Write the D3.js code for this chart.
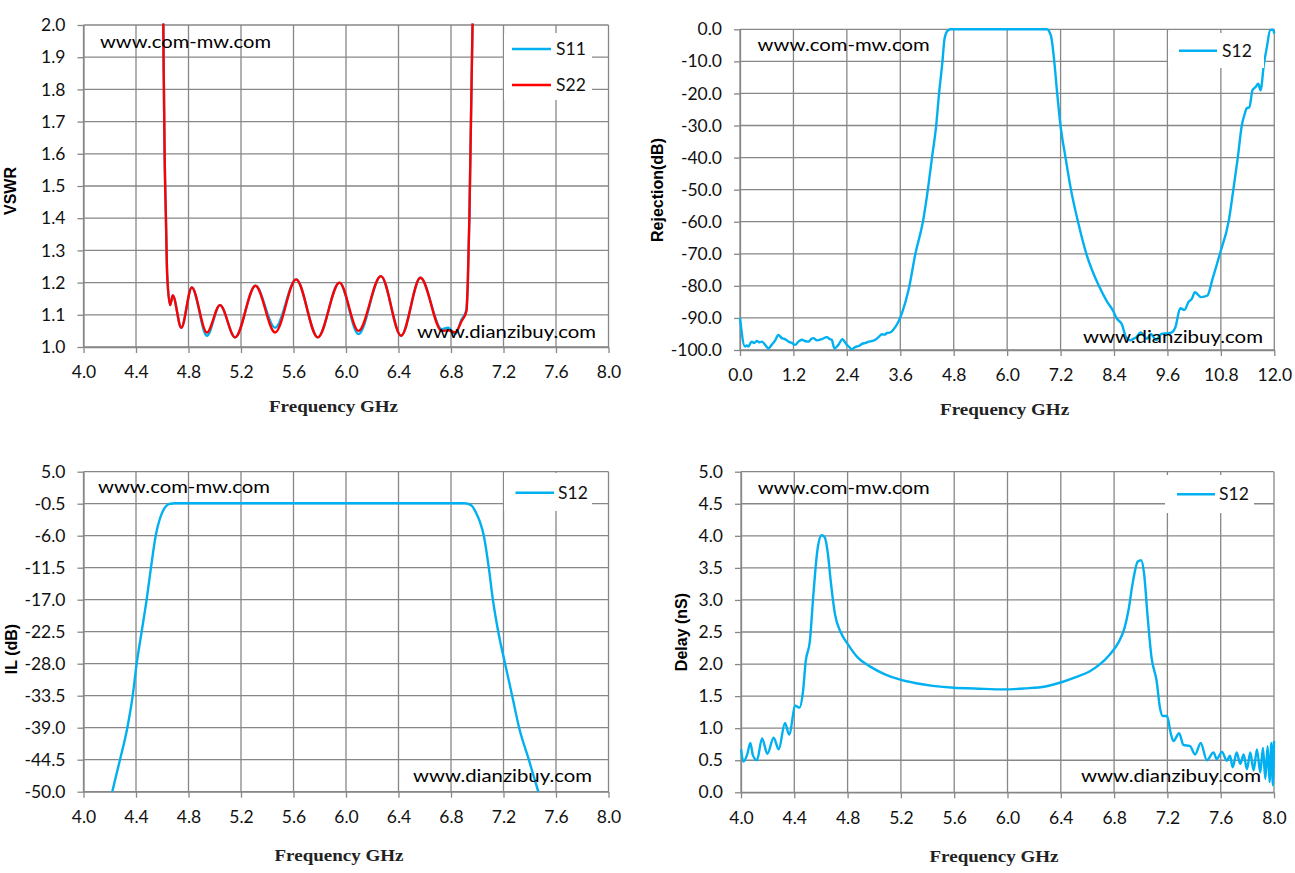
<!DOCTYPE html>
<html>
<head>
<meta charset="utf-8">
<script src="https://cdn.jsdelivr.net/npm/d3@7"></script>
<style>
  body { margin: 0; background: #fff; }
  svg { display: block; }
</style>
</head>
<body>
<div id="chart"></div>
<script>
// ---- VSWR (top left) ----
const vswrFreq = [4.600, 4.605, 4.610, 4.618, 4.628, 4.638, 4.660, 4.680, 4.745, 4.825, 4.940, 5.040, 5.155, 5.310,
                  5.460, 5.620, 5.785, 5.950, 6.095, 6.266, 6.420, 6.567, 6.730, 6.778, 6.833, 6.880, 6.917,
                  6.928, 6.940, 6.952, 6.964, 6.975];
const vswrS11 = [2.6, 2.2, 1.9, 1.6, 1.4, 1.22, 1.13, 1.16, 1.06, 1.185, 1.035, 1.13, 1.03, 1.19,
                 1.06, 1.21, 1.03, 1.20, 1.04, 1.22, 1.035, 1.215, 1.055, 1.06, 1.04, 1.085, 1.115,
                 1.2, 1.4, 1.7, 2.0, 2.3];
const vswrS22 = [2.6, 2.2, 1.9, 1.6, 1.4, 1.22, 1.13, 1.16, 1.06, 1.185, 1.045, 1.13, 1.03, 1.19,
                 1.045, 1.21, 1.03, 1.20, 1.05, 1.22, 1.035, 1.215, 1.05, 1.052, 1.045, 1.08, 1.11,
                 1.2, 1.4, 1.7, 2.0, 2.3];
const vswrXTicks = [4.0, 4.4, 4.8, 5.2, 5.6, 6.0, 6.4, 6.8, 7.2, 7.6, 8.0];
const vswrYTicks = [1.0, 1.1, 1.2, 1.3, 1.4, 1.5, 1.6, 1.7, 1.8, 1.9, 2.0];

// ---- Rejection (top right) ----
const rejFreq = [0.00, 0.11, 0.15, 0.19, 0.26, 0.32, 0.38, 0.44, 0.49, 0.56, 0.64, 0.71, 0.79, 0.86, 0.94,
                 1.01, 1.09, 1.16, 1.24, 1.31, 1.39, 1.46, 1.54, 1.60, 1.65, 1.73, 1.84, 1.95, 2.02, 2.06,
                 2.12, 2.21, 2.30, 2.35, 2.40, 2.45, 2.51, 2.57, 2.63, 2.69, 2.74, 2.82, 2.89, 2.96, 3.04,
                 3.11, 3.19, 3.25, 3.30, 3.36, 3.41, 3.49, 3.56, 3.64, 3.79,
                 3.939, 4.108, 4.219, 4.312, 4.406, 4.471, 4.547, 4.593, 4.66, 4.734, 6.89, 6.983, 7.058, 7.124,
                 7.198, 7.311, 7.433, 7.591, 7.779, 8.06, 8.247, 8.388, 8.453, 8.576, 8.67, 8.764, 8.83, 8.904,
                 8.997, 9.07, 9.138, 9.232, 9.29, 9.345, 9.40, 9.466, 9.58, 9.70, 9.776, 9.888, 9.981, 10.075,
                 10.15, 10.217, 10.357, 10.498, 10.61, 10.778, 10.98, 11.08, 11.18, 11.27, 11.34, 11.38,
                 11.44, 11.51, 11.58, 11.64, 11.69, 11.77, 11.83, 11.91, 11.97, 12.0];
const rejS12 = [-90, -98.9, -98.6, -98.9, -97.4, -97.8, -97.2, -97.6, -97.4, -98.3, -99.5, -98.4, -97, -95.3, -96.3,
                -96.6, -97.4, -97.8, -98.4, -97.4, -96.8, -97.2, -97.4, -96.6, -96.3, -97, -96.6, -96, -96.6, -96.8,
                -99.5, -98.4, -96.6, -97.4, -98.4, -99, -99.8, -99.2, -98.9, -98.6, -98.1, -97.8, -97.4, -97.2, -96.8,
                -96, -95.1, -95.2, -94.7, -94.6, -94.2, -92.8, -91.1, -88.4, -81,
                -70, -60, -50, -40, -30, -20, -10, -3, -0.5, 0, 0, -2, -10, -20,
                -30, -40, -50, -60, -70, -80, -85, -88, -90, -92, -96, -97, -96.5, -96,
                -94.5, -95.5, -96.5, -95, -96, -97, -96, -95, -94.8, -94.5, -93, -87, -87.5, -85,
                -84, -82, -83.5, -83, -78, -70, -59.5, -50, -40, -30, -26.2, -24.6,
                -24.3, -19, -18, -17, -19, -10.5, -5.8, -0.2, -0.1, -1.3];
const rejXTicks = [0.0, 1.2, 2.4, 3.6, 4.8, 6.0, 7.2, 8.4, 9.6, 10.8, 12.0];
const rejYTicks = [0, -10, -20, -30, -40, -50, -60, -70, -80, -90, -100];

// ---- Insertion loss (bottom left) ----
const ilFreq = [4.219, 4.278, 4.334, 4.375, 4.405, 4.443, 4.481, 4.514, 4.55, 4.583, 4.616, 4.64, 4.66, 4.70,
                6.90, 6.926, 6.96, 6.99, 7.02, 7.05, 7.088, 7.119, 7.16, 7.212, 7.266, 7.319, 7.393, 7.465];
const ilS12 = [-50, -44.5, -39, -33.5, -28, -22.5, -17, -11.5, -6, -3, -1.3, -0.7, -0.5, -0.42,
               -0.42, -0.5, -0.9, -2, -3.6, -6, -11.5, -17, -22.5, -28, -33.5, -39, -44.5, -50];
const ilXTicks = [4.0, 4.4, 4.8, 5.2, 5.6, 6.0, 6.4, 6.8, 7.2, 7.6, 8.0];
const ilYTicks = [5.0, -0.5, -6.0, -11.5, -17.0, -22.5, -28.0, -33.5, -39.0, -44.5, -50.0];

// ---- Group delay (bottom right) ----
const delayFreq = [4.001, 4.017, 4.048, 4.07, 4.089, 4.12, 4.158, 4.198, 4.245, 4.283, 4.33, 4.361, 4.408, 4.439,
                   4.464, 4.486, 4.517, 4.542, 4.573, 4.605, 4.627, 4.652, 4.673, 4.705, 4.752, 4.805, 4.877, 4.97,
                   5.08, 5.189, 5.314, 5.439, 5.596, 5.752, 5.971, 6.127, 6.284, 6.41, 6.518, 6.612, 6.69, 6.768,
                   6.831, 6.878, 6.909, 6.94, 6.978, 7.003, 7.025, 7.05, 7.081, 7.119, 7.144, 7.166, 7.197, 7.225,
                   7.245, 7.288, 7.32, 7.37, 7.408, 7.45, 7.496, 7.546, 7.57, 7.61, 7.646, 7.67, 7.69, 7.72,
                   7.747, 7.772, 7.797, 7.822, 7.847, 7.872, 7.897, 7.917, 7.935, 7.952, 7.967, 7.98, 7.992, 8.0];
const delayS12 = [0.67, 0.48, 0.6, 0.77, 0.58, 0.5, 0.84, 0.6, 0.85, 0.67, 1.08, 0.9, 1.35, 1.32,
                  1.55, 2.05, 2.36, 3.05, 3.77, 4.01, 3.98, 3.72, 3.3, 2.78, 2.48, 2.3, 2.1, 1.96,
                  1.84, 1.76, 1.7, 1.66, 1.63, 1.62, 1.605, 1.62, 1.65, 1.72, 1.8, 1.88, 1.99, 2.15,
                  2.33, 2.56, 2.85, 3.27, 3.6, 3.62, 3.41, 2.78, 2.1, 1.74, 1.32, 1.19, 1.19, 0.92,
                  0.8, 0.92, 0.74, 0.72, 0.59, 0.77, 0.5, 0.62, 0.52, 0.63, 0.49, 0.57, 0.39, 0.62,
                  0.44, 0.59, 0.36, 0.62, 0.34, 0.67, 0.31, 0.69, 0.21, 0.72, 0.16, 0.77, 0.11, 0.8];
const delayXTicks = [4.0, 4.4, 4.8, 5.2, 5.6, 6.0, 6.4, 6.8, 7.2, 7.6, 8.0];
const delayYTicks = [0.0, 0.5, 1.0, 1.5, 2.0, 2.5, 3.0, 3.5, 4.0, 4.5, 5.0];

const blue = "#00B0F0";
const red = "#FF0000";
const gridColor = "#878787";
const tickFont = "Lato, 'Open Sans', sans-serif";

const svg = d3.select("#chart").append("svg")
    .attr("width", 1295)
    .attr("height", 873);

const panels = [
  {
    left: 83.5, right: 608.5, top: 25, bottom: 347,
    xDomain: [4, 8], yDomain: [1, 2], xTicks: vswrXTicks, yTicks: vswrYTicks,
    series: [
      { name: "S11", color: blue, freq: vswrFreq, values: vswrS11 },
      { name: "S22", color: red, freq: vswrFreq, values: vswrS22 }
    ],
    legend: { x: 504, y: 33, w: 88, h: 67, rows: [49, 85], lx1: 512, lx2: 551, tx: 556 },
    mark1: [100, 48, 171], mark2: [417, 338, 179],
    yTitle: "VSWR", yTitleAt: [10, 191], xTitleAt: [333.5, 412]
  },
  {
    left: 740, right: 1274.3, top: 29.3, bottom: 350,
    xDomain: [0, 12], yDomain: [-100, 0], xTicks: rejXTicks, yTicks: rejYTicks,
    series: [{ name: "S12", color: blue, freq: rejFreq, values: rejS12 }],
    legend: { x: 1168, y: 33, w: 96, h: 35, rows: [50.7], lx1: 1179, lx2: 1217, tx: 1222 },
    mark1: [757.6, 50.7, 172], mark2: [1083, 343, 180],
    yTitle: "Rejection(dB)", yTitleAt: [657, 190], xTitleAt: [1004.6, 415]
  },
  {
    left: 83.5, right: 608.5, top: 471.7, bottom: 791.7,
    xDomain: [4, 8], yDomain: [-50, 5], xTicks: ilXTicks, yTicks: ilYTicks,
    series: [{ name: "S12", color: blue, freq: ilFreq, values: ilS12 }],
    legend: { x: 504, y: 473, w: 88, h: 38, rows: [492.7], lx1: 515.5, lx2: 554, tx: 558 },
    mark1: [98, 493, 172], mark2: [413, 781.7, 179],
    yTitle: "IL (dB)", yTitleAt: [11, 649], xTitleAt: [339, 861]
  },
  {
    left: 741, right: 1274, top: 471.7, bottom: 792.3,
    xDomain: [4, 8], yDomain: [0, 5], xTicks: delayXTicks, yTicks: delayYTicks,
    series: [{ name: "S12", color: blue, freq: delayFreq, values: delayS12 }],
    legend: { x: 1165, y: 475, w: 89, h: 38, rows: [494.3], lx1: 1177, lx2: 1215, tx: 1219 },
    mark1: [757.7, 494, 172], mark2: [1081, 781.7, 180],
    yTitle: "Delay (nS)", yTitleAt: [681, 632], xTitleAt: [994, 862]
  }
];

function drawPanel(p, idx) {
  const x = d3.scaleLinear().domain(p.xDomain).range([p.left, p.right]);
  const y = d3.scaleLinear().domain(p.yDomain).range([p.bottom, p.top]);
  const g = svg.append("g");

  // gridlines
  g.append("g").selectAll("line").data(p.xTicks).join("line")
      .attr("x1", d => x(d)).attr("x2", d => x(d))
      .attr("y1", p.top).attr("y2", p.bottom)
      .attr("stroke", gridColor).attr("stroke-width", 1.3);
  g.append("g").selectAll("line").data(p.yTicks).join("line")
      .attr("x1", p.left).attr("x2", p.right)
      .attr("y1", d => y(d)).attr("y2", d => y(d))
      .attr("stroke", gridColor).attr("stroke-width", 1.3);

  // axes
  const xAxis = d3.axisBottom(x).tickValues(p.xTicks)
      .tickFormat(d => d.toFixed(1)).tickSizeInner(6).tickSizeOuter(0).tickPadding(13);
  const yAxis = d3.axisLeft(y).tickValues(p.yTicks)
      .tickFormat(d => d.toFixed(1)).tickSizeInner(6).tickSizeOuter(0).tickPadding(12);

  [g.append("g").attr("transform", `translate(0,${p.bottom})`).call(xAxis),
   g.append("g").attr("transform", `translate(${p.left},0)`).call(yAxis)].forEach(ax => {
    ax.select(".domain").attr("stroke", gridColor).attr("stroke-width", 1.3);
    ax.selectAll(".tick line").attr("stroke", gridColor).attr("stroke-width", 1.3);
    ax.selectAll(".tick text")
      .attr("fill", "#111")
      .style("font-family", tickFont)
      .style("font-size", "17.5px");
  });

  // clip the curves to the plot area
  const clipId = "clip" + idx;
  svg.append("clipPath").attr("id", clipId).append("rect")
      .attr("x", p.left - 2).attr("y", p.top - 1.5)
      .attr("width", p.right - p.left + 4).attr("height", p.bottom - p.top + 3);

  const line = d3.line()
      .x(d => x(d[0]))
      .y(d => y(d[1]))
      .curve(d3.curveMonotoneX);

  p.series.forEach(s => {
    g.append("path")
      .datum(s.values.map((v, i) => [s.freq[i], v]))
      .attr("clip-path", `url(#${clipId})`)
      .attr("fill", "none")
      .attr("stroke", s.color)
      .attr("stroke-width", 2.4)
      .attr("stroke-linejoin", "round")
      .attr("d", line);
  });

  // legend
  const lg = p.legend;
  g.append("rect").attr("x", lg.x).attr("y", lg.y).attr("width", lg.w).attr("height", lg.h)
      .attr("fill", "#fff");
  p.series.forEach((s, i) => {
    g.append("line")
      .attr("x1", lg.lx1).attr("x2", lg.lx2).attr("y1", lg.rows[i]).attr("y2", lg.rows[i])
      .attr("stroke", s.color).attr("stroke-width", 2.6);
    g.append("text")
      .attr("x", lg.tx).attr("y", lg.rows[i]).attr("dy", "0.35em")
      .style("font-family", tickFont).style("font-size", "17.5px")
      .attr("fill", "#111")
      .text(s.name);
  });

  // watermarks
  [[p.mark1, "www.com-mw.com"], [p.mark2, "www.dianzibuy.com"]].forEach(([m, t]) => {
    g.append("text")
      .attr("x", m[0]).attr("y", m[1])
      .attr("textLength", m[2]).attr("lengthAdjust", "spacingAndGlyphs")
      .style("font-family", tickFont).style("font-size", "18px")
      .attr("fill", "#000")
      .text(t);
  });

  // axis titles
  g.append("text")
      .attr("transform", `translate(${p.yTitleAt[0]},${p.yTitleAt[1]}) rotate(-90)`)
      .attr("text-anchor", "middle").attr("dy", "0.36em")
      .style("font-family", "'Liberation Sans', Arial, sans-serif")
      .style("font-size", "16px").style("font-weight", "bold")
      .text(p.yTitle);
  g.append("text")
      .attr("x", p.xTitleAt[0]).attr("y", p.xTitleAt[1])
      .attr("text-anchor", "middle")
      .attr("textLength", 129).attr("lengthAdjust", "spacingAndGlyphs")
      .style("font-family", "'Liberation Serif', 'DejaVu Serif', serif")
      .style("font-size", "16px").style("font-weight", "bold")
      .attr("fill", "#222")
      .text("Frequency GHz");
}

panels.forEach(drawPanel);
</script>
</body>
</html>
